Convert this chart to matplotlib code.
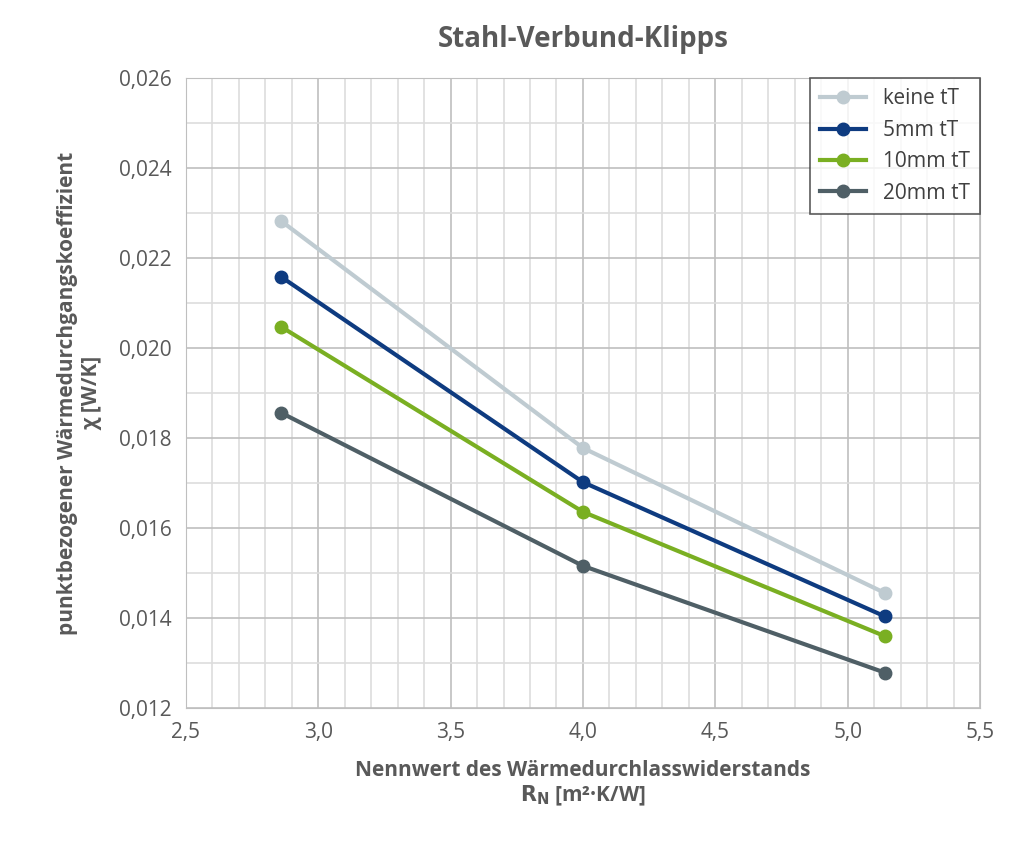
import matplotlib.pyplot as plt
from matplotlib.ticker import MultipleLocator, FuncFormatter

x_vals = [2.86, 4.0, 5.14]
keine = [0.02282, 0.01778, 0.01456]
mm5 = [0.02158, 0.01702, 0.01404]
mm10 = [0.02047, 0.01636, 0.01360]
mm20 = [0.01856, 0.01516, 0.01279]
labels = ['keine tT', '5mm tT', '10mm tT', '20mm tT']
colors = ['#BFCBD1', '#0E3B80', '#7AAF22', '#4F5F66']

plt.rcParams['font.family'] = 'Open Sans'
fig = plt.figure(figsize=(10.24, 8.43), dpi=100)
ax = fig.add_axes([0.1816, 0.160, 0.7754, 0.7475])

for ys, lab, c in zip([keine, mm5, mm10, mm20], labels, colors):
    ax.plot(x_vals, ys, color=c, lw=3, marker='o', ms=9, label=lab)

ax.set_xlim(2.5, 5.5)
ax.set_ylim(0.012, 0.026)
ax.xaxis.set_major_locator(MultipleLocator(0.5))
ax.xaxis.set_minor_locator(MultipleLocator(0.1))
ax.yaxis.set_major_locator(MultipleLocator(0.002))
ax.yaxis.set_minor_locator(MultipleLocator(0.001))
ax.xaxis.set_major_formatter(FuncFormatter(lambda v, p: f'{v:.1f}'.replace('.', ',')))
ax.yaxis.set_major_formatter(FuncFormatter(lambda v, p: f'{v:.3f}'.replace('.', ',')))
ax.grid(which='major', color='#BFBFBF', lw=1.2)
ax.grid(which='minor', color='#DDDDDD', lw=1.2)
ax.set_axisbelow(True)
ax.tick_params(which='both', length=0, labelsize=15, colors='#595959', pad=10)
for s in ax.spines.values():
    s.set_color('#BFBFBF')

ax.set_title('Stahl-Verbund-Klipps', fontsize=20, fontweight='bold', color='#595959', pad=22)
ax.set_xlabel('Nennwert des Wärmedurchlasswiderstands\n$\\mathbf{R_N}$ [m²·K/W]', fontsize=15,
              fontweight='bold', color='#595959', labelpad=12)
ax.set_ylabel('punktbezogener Wärmedurchgangskoeffizient\nχ [W/K]', fontsize=15,
              fontweight='bold', color='#595959', labelpad=12)

leg = ax.legend(loc='upper right', fontsize=15, frameon=True, fancybox=False,
                borderaxespad=0, handlelength=2.2, labelspacing=0.5, borderpad=0.5)
leg.get_frame().set_edgecolor('#333333')
leg.get_frame().set_linewidth(1.2)
for t in leg.get_texts():
    t.set_color('#404040')

fig.savefig('out.png', dpi=100, facecolor='white')
